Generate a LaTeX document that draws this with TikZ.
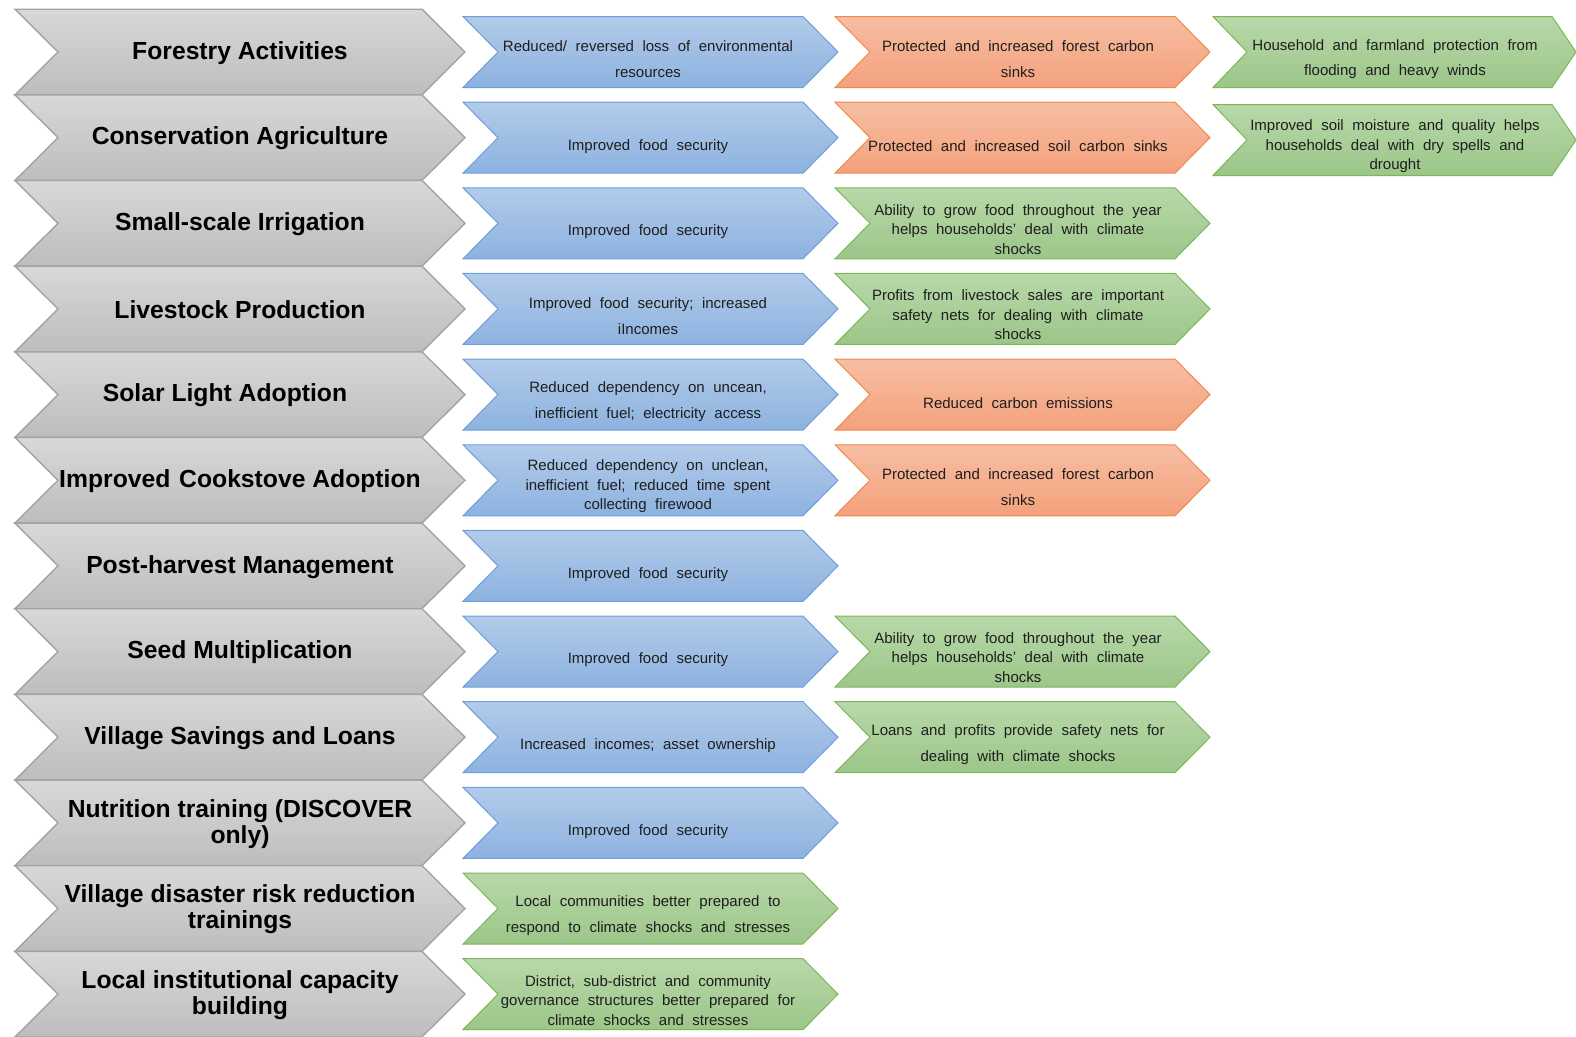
\documentclass[tikz,border=0pt]{standalone}
\usepackage{fontspec}
\setmainfont{Liberation Sans}
\newfontfamily\boxfont[WordSpace=2.05]{Liberation Sans}
\definecolor{greyT}{HTML}{D8D8D8}
\definecolor{greyB}{HTML}{BDBDBD}
\definecolor{greyD}{HTML}{A3A3A3}
\definecolor{blueT}{HTML}{B2CBE9}
\definecolor{blueB}{HTML}{8DB2E0}
\definecolor{blueD}{HTML}{6E9FD9}
\definecolor{orT}{HTML}{F7BEA3}
\definecolor{orB}{HTML}{F4A17C}
\definecolor{orD}{HTML}{EF8A4E}
\definecolor{grT}{HTML}{B8D8A9}
\definecolor{grB}{HTML}{9CC689}
\definecolor{grD}{HTML}{7DB75A}
\definecolor{txt}{HTML}{1E1E1E}
\newcommand{\chevron}[7]{% style, L, R, cy, left depth, right depth, half height
  \path[#1] (#2,#4-#7) -- (#3,#4-#7) -- (#3+#6,#4) -- (#3,#4+#7) -- (#2,#4+#7) -- (#2+#5,#4) -- cycle;}
\tikzset{
  greybox/.style={top color=greyT,bottom color=greyB,draw=greyD,line width=1.4pt},
  bluebox/.style={top color=blueT,bottom color=blueB,draw=blueD,line width=1pt},
  orbox/.style={top color=orT,bottom color=orB,draw=orD,line width=1pt},
  grbox/.style={top color=grT,bottom color=grB,draw=grD,line width=1pt},
  head/.style={align=center,text=black,inner sep=0pt,yshift=-3pt,font=\bfseries\fontsize{24.7}{26}\selectfont},
  lbl/.style={align=center,text=txt,inner sep=0pt,yshift=-1pt,font=\boxfont\fontsize{15}{25.5}\selectfont},
  lbls/.style={lbl,yshift=-1pt},
  lblt/.style={align=center,text=txt,inner sep=0pt,yshift=-2pt,font=\boxfont\fontsize{15}{19.5}\selectfont},
}
\begin{document}
\begin{tikzpicture}[x=1pt,y=-1pt]
\useasboundingbox (0,0) rectangle (1576,1036);
\fill[white] (0,0) rectangle (1576,1036);
% grey column
\foreach \cy in {52,137.65,223.3,308.95,394.6,480.25,565.9,651.55,737.2,822.85,908.5,994.15}
  {\chevron{greybox}{15}{422}{\cy}{43}{43}{42.8}}
\node[head] (g1) at (240,50) {Forestry Activities};
\node[head] (g2) at (240,135.65) {Conservation Agriculture};
\node[head] (g3) at (240,221.3) {Small-scale Irrigation};
\node[head] (g4) at (240,306.95) {Livestock Production};
\node[head] (g5) at (225,392.6) {Solar Light Adoption};
\node[head] (g6) at (240,478.25) {Improved\hspace{2pt} Cookstove Adoption};
\node[head] (g7) at (240,563.9) {Post-harvest Management};
\node[head] (g8) at (240,649.55) {Seed Multiplication};
\node[head] (g9) at (240,735.2) {Village Savings and Loans};
\node[head] (g10) at (240,821) {Nutrition training (DISCOVER\\only)};
\node[head] (g11) at (240,906.5) {Village disaster risk reduction\\trainings};
\node[head] (g12) at (240,992.15) {Local institutional capacity\\building};
% second column
\foreach \cy in {52,137.65,223.3,308.95,394.6,480.25,565.9,651.55,737.2,822.85}
  {\chevron{bluebox}{463}{803}{\cy}{35}{35}{35.5}}
\chevron{grbox}{463}{803}{908.5}{35}{35}{35.5}
\chevron{grbox}{463}{803}{994.15}{35}{35}{35.5}
\node[lbl] (b1) at (648,58) {Reduced/ reversed loss of environmental\\resources};
\node[lbls] (b2) at (648,144.15) {Improved food security};
\node[lbls] (b3) at (648,229.8) {Improved food security};
\node[lbl] (b4) at (648,314.95) {Improved food security; increased\\iIncomes};
\node[lbl] (b5) at (648,400.6) {Reduced dependency on uncean,\\inefficient fuel; electricity access};
\node[lblt] (b6) at (648,484.25) {Reduced dependency on unclean,\\inefficient fuel; reduced time spent\\collecting firewood};
\node[lbls] (b7) at (648,572.4) {Improved food security};
\node[lbls] (b8) at (648,658.05) {Improved food security};
\node[lbls] (b9) at (648,743.7) {Increased incomes; asset ownership};
\node[lbls] (b10) at (648,829.35) {Improved food security};
\node[lbl] (b11) at (648,914.5) {Local communities better prepared to\\respond to climate shocks and stresses};
\node[lblt] (b12) at (648,998.15) {District, sub-district and community\\governance structures better prepared for\\climate shocks and stresses};
% third column
\chevron{orbox}{835}{1175}{52}{35}{35}{35.5}
\chevron{orbox}{835}{1175}{137.65}{35}{35}{35.5}
\chevron{grbox}{835}{1175}{223.3}{35}{35}{35.5}
\chevron{grbox}{835}{1175}{308.95}{35}{35}{35.5}
\chevron{orbox}{835}{1175}{394.6}{35}{35}{35.5}
\chevron{orbox}{835}{1175}{480.25}{35}{35}{35.5}
\chevron{grbox}{835}{1175}{651.55}{35}{35}{35.5}
\chevron{grbox}{835}{1175}{737.2}{35}{35}{35.5}
\node[lbl] (c1) at (1018,58) {Protected and increased forest carbon\\sinks};
\node[lbls] (c2) at (1018,144.15) {Protected and increased soil carbon sinks};
\node[lblt] (c3) at (1018,227.3) {Ability to grow food throughout the year\\helps households’ deal with climate\\shocks};
\node[lblt] (c4) at (1018,312.95) {Profits from livestock sales are important\\safety nets for dealing with climate\\shocks};
\node[lbls] (c5) at (1018,401.1) {Reduced carbon emissions};
\node[lbl] (c6) at (1018,486.25) {Protected and increased forest carbon\\sinks};
\node[lblt] (c8) at (1018,655.55) {Ability to grow food throughout the year\\helps households’ deal with climate\\shocks};
\node[lbl] (c9) at (1018,743.5) {Loans and profits provide safety nets for\\dealing with climate shocks};
% fourth column
\chevron{grbox}{1213}{1552}{52}{34}{24}{35.5}
\chevron{grbox}{1213}{1552}{140}{34}{24}{35.5}
\node[lbl] (d1) at (1395,58) {Household and farmland protection from\\flooding and heavy winds};
\node[lblt] (d2) at (1395,144.5) {Improved soil moisture and quality helps\\households deal with dry spells and\\drought};
\end{tikzpicture}
\end{document}
